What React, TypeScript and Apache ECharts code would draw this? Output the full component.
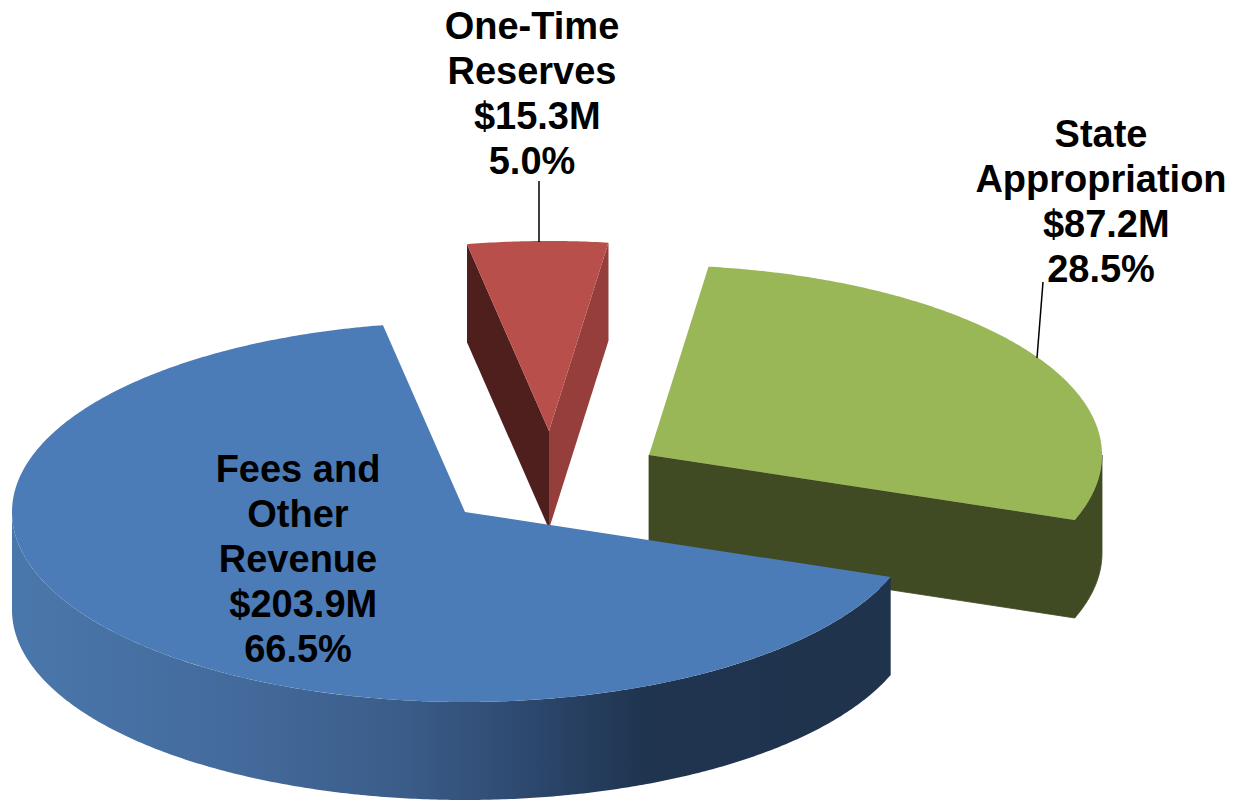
import React, { useEffect, useRef } from "react";
import * as echarts from "echarts";

// Data, in drawing order (back to front)
const categories = ["State Appropriation", "One-Time Reserves", "Fees and Other Revenue"];
const amounts = [87.2, 15.3, 203.9];
const amountLabels = ["$87.2M", "$15.3M", "$203.9M"];
const percentLabels = ["28.5%", "5.0%", "66.5%"];
const labelTexts = [
  "State\nAppropriation\n $87.2M\n28.5%",
  "One-Time\nReserves\n $15.3M\n5.0%",
  "Fees and\nOther\nRevenue\n $203.9M\n66.5%",
];

// Geometry of the tilted pie (pixels)
const RX = 453;
const RY = 190;
const DEPTH = 98;
const END_ANGLE = 380; // clockwise from east, where the first slice ends
const apexX = [649, 549, 465];
const apexY = [455, 431, 512];
const labelX = [1101, 532, 298];
const labelY = [201, 93, 559];
const leaders = [
  [1043, 282, 1037, 358],
  [539, 181, 539, 242],
  null,
];

const topColors = ["#9ab758", "#b94f4b", "#4b7cb8"];
const blueSide = new echarts.graphic.LinearGradient(
  12, 0, 890, 0,
  [
    { offset: 0, color: "#4a77ab" },
    { offset: 0.28, color: "#43699a" },
    { offset: 0.45, color: "#3a5c88" },
    { offset: 0.57, color: "#2f4b72" },
    { offset: 0.72, color: "#1f344f" },
    { offset: 1, color: "#1f334d" },
  ],
  true
);

const total = amounts.reduce((a, b) => a + b, 0);

function arc(cx: number, cy: number, from: number, to: number) {
  const pts: number[][] = [];
  const n = Math.max(2, Math.ceil(Math.abs(to - from) * 2));
  for (let i = 0; i <= n; i++) {
    const t = ((from + ((to - from) * i) / n) * Math.PI) / 180;
    pts.push([cx + RX * Math.cos(t), cy + RY * Math.sin(t)]);
  }
  return pts;
}

function shade(points: number[][], fill: any, seamless = false) {
  return {
    type: "polygon",
    shape: { points },
    style: seamless ? { fill, stroke: fill, lineWidth: 0.8 } : { fill, stroke: null },
  };
}

function wall(cx: number, cy: number, from: number, to: number, fill: any, seamless = false) {
  const top = arc(cx, cy, from, to);
  const bottom = top.map(([x, y]) => [x, y + DEPTH]).reverse();
  return shade([...top, ...bottom], fill, seamless);
}

function face(cx: number, cy: number, p: number[], fill: any, seamless = false) {
  return shade(
    [[cx, cy], p, [p[0], p[1] + DEPTH], [cx, cy + DEPTH]],
    fill,
    seamless
  );
}

function renderItem(params: any, api: any) {
  const i = params.dataIndex;
  const cx = apexX[i];
  const cy = apexY[i];
  let end = END_ANGLE;
  for (let k = 0; k < i; k++) end -= (amounts[k] / total) * 360;
  const start = end - (api.value(0) / total) * 360;
  const rim = arc(cx, cy, start, end);
  const first = rim[0];
  const last = rim[rim.length - 1];

  const children: any[] = [];
  if (i === 0) {
    children.push(wall(cx, cy, 360, end, "#404a23", true));
    children.push(face(cx, cy, last, "#404a23", true));
  } else if (i === 1) {
    children.push(face(cx, cy, first, "#4f1f1e"));
    children.push(face(cx, cy, last, "#953e3b"));
  } else {
    children.push(wall(cx, cy, start, 180, blueSide));
  }
  children.push(shade([[cx, cy], ...rim], topColors[i]));
  const lead = leaders[i];
  if (lead) {
    children.push({
      type: "line",
      shape: { x1: lead[0], y1: lead[1], x2: lead[2], y2: lead[3] },
      style: { stroke: "#000000", lineWidth: 1.5 },
    });
  }
  children.push({
    type: "text",
    style: {
      text: labelTexts[i],
      x: labelX[i],
      y: labelY[i],
      align: "center",
      verticalAlign: "middle",
      fontFamily: "Liberation Sans",
      fontWeight: "bold",
      fontSize: 38,
      lineHeight: 45,
      fill: "#000000",
    },
  });
  return { type: "group", children };
}

export default function App() {
  const ref = useRef<HTMLDivElement>(null);
  useEffect(() => {
    document.body.style.margin = "0";
    const chart = echarts.init(ref.current!, null, { renderer: "svg" });
    chart.setOption({
      animation: false,
      backgroundColor: "#ffffff",
      series: [
        {
          type: "custom",
          coordinateSystem: "none",
          silent: true,
          clip: false,
          renderItem,
          data: categories.map((name, i) => ({
            name,
            value: [amounts[i]],
            amount: amountLabels[i],
            percent: percentLabels[i],
          })),
        },
      ],
    });
    return () => chart.dispose();
  }, []);
  return <div ref={ref} style={{ width: 1234, height: 801, position: "absolute", left: 0, top: 0 }} />;
}
